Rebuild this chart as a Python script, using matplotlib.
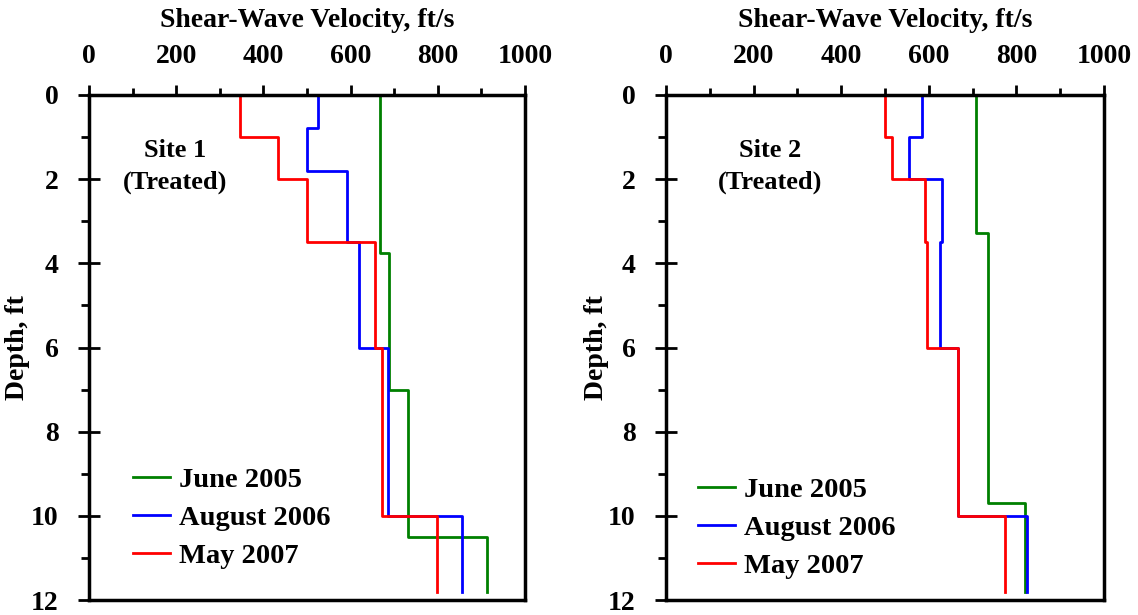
import matplotlib
matplotlib.use('Agg')
import matplotlib.pyplot as plt
from matplotlib.ticker import MultipleLocator

plt.rcParams['font.family'] = 'Liberation Serif'
plt.rcParams['font.weight'] = 'bold'

# Site 1 (depth breakpoints, velocity per layer)
s1_jun_depth = [0, 3.75, 7, 10.5, 11.8]
s1_jun_vel = [668, 689, 731, 912]
s1_aug_depth = [0, 0.78, 1.8, 3.5, 6, 10, 11.8]
s1_aug_vel = [526, 499, 592, 620, 685, 855]
s1_may_depth = [0, 1, 2, 3.5, 6, 10, 11.8]
s1_may_vel = [346, 433, 500, 656, 671, 799]

# Site 2
s2_jun_depth = [0, 3.28, 9.7, 11.8]
s2_jun_vel = [708, 735, 819]
s2_aug_depth = [0, 1, 2, 3.5, 6, 10, 11.8]
s2_aug_vel = [584, 554, 629, 626, 666, 824]
s2_may_depth = [0, 1, 2, 3.5, 6, 10, 11.8]
s2_may_vel = [499, 516, 592, 595, 666, 775]

labels = ['June 2005', 'August 2006', 'May 2007']
colors = ['green', 'blue', 'red']


def step_xy(depth, vel):
    xs, ys = [], []
    for i, v in enumerate(vel):
        xs += [v, v]
        ys += [depth[i], depth[i + 1]]
    return xs, ys


fig = plt.figure(figsize=(11.38, 6.15), dpi=100)
ax1 = fig.add_axes([89 / 1138, 15 / 615, 436 / 1138, 505 / 615])
ax2 = fig.add_axes([666 / 1138, 15 / 615, 438 / 1138, 505 / 615])

panels = [
    (ax1, [(s1_jun_depth, s1_jun_vel), (s1_aug_depth, s1_aug_vel), (s1_may_depth, s1_may_vel)],
     'Site 1\n(Treated)', 197, (0.101, 0.162), -0.135),
    (ax2, [(s2_jun_depth, s2_jun_vel), (s2_aug_depth, s2_aug_vel), (s2_may_depth, s2_may_vel)],
     'Site 2\n(Treated)', 237, (0.073, 0.143), -0.130),
]

for ax, series, site, sx, legpos, ylx in panels:
    for (d, v), c, lab in zip(series, colors, labels):
        xs, ys = step_xy(d, v)
        ax.plot(xs, ys, color=c, lw=2, label=lab)
    ax.set_xlim(0, 1000)
    ax.set_ylim(12, 0)
    ax.xaxis.set_major_locator(MultipleLocator(200))
    ax.xaxis.set_minor_locator(MultipleLocator(100))
    ax.yaxis.set_major_locator(MultipleLocator(2))
    ax.yaxis.set_minor_locator(MultipleLocator(1))
    ax.xaxis.tick_top()
    ax.xaxis.set_label_position('top')
    ax.tick_params(which='both', direction='out', width=2, labelsize=20)
    ax.tick_params(axis='x', which='major', length=7, pad=12)
    ax.tick_params(axis='x', which='minor', length=5)
    ax.tick_params(axis='y', which='major', direction='inout', length=16, pad=14)
    ax.tick_params(axis='y', which='minor', length=6)
    for sp in ax.spines.values():
        sp.set_linewidth(2.5)
    ax.set_xlabel('Shear-Wave Velocity, ft/s', fontsize=20, fontweight='bold', labelpad=12)
    ax.set_ylabel('Depth, ft', fontsize=20, fontweight='bold')
    ax.yaxis.set_label_coords(ylx, 0.5)
    ax.text(sx, 1.7, site, ha='center', va='center', fontsize=19, fontweight='bold', linespacing=1.45)
    ax.legend(loc='center left', bbox_to_anchor=legpos, frameon=False, fontsize=20.5,
              handlelength=1.3, handletextpad=0.3, labelspacing=0.42,
              borderpad=0, borderaxespad=0)

fig.savefig('out.png', dpi=100)
